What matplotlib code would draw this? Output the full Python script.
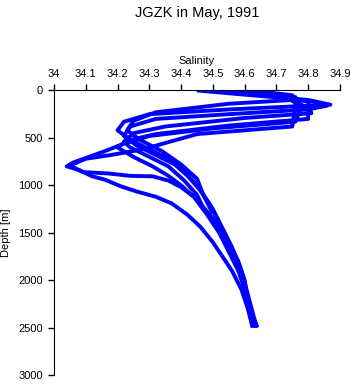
import matplotlib
matplotlib.use("Agg")
import matplotlib.pyplot as plt

# CTD salinity profiles, JGZK, May 1991
depth_1 = [0, 50, 100, 150, 200, 250, 330, 420, 520, 620, 720, 850, 1000, 1200, 1400, 1600, 1800, 2000, 2200, 2400, 2500]
sal_1 = [34.45, 34.62, 34.80, 34.87, 34.55, 34.30, 34.22, 34.20, 34.24, 34.30, 34.36, 34.41, 34.45, 34.49, 34.52, 34.55, 34.58, 34.60, 34.61, 34.625, 34.63]

depth_2 = [0, 40, 120, 160, 200, 250, 300, 380, 480, 580, 680, 780, 900, 1050, 1250, 1450, 1650, 1900, 2150, 2400, 2500]
sal_2 = [34.50, 34.65, 34.82, 34.86, 34.80, 34.55, 34.32, 34.24, 34.22, 34.26, 34.32, 34.38, 34.42, 34.46, 34.50, 34.53, 34.56, 34.59, 34.61, 34.63, 34.64]

depth_3 = [0, 50, 120, 240, 290, 380, 450, 540, 600, 700, 800, 950, 1100, 1240]
sal_3 = [34.55, 34.70, 34.80, 34.81, 34.60, 34.35, 34.25, 34.22, 34.24, 34.30, 34.36, 34.41, 34.45, 34.47]

depth_4 = [0, 80, 200, 300, 370, 460, 530, 600, 700, 800, 900, 1000, 1150, 1350, 1500, 1700, 1950, 2200, 2450]
sal_4 = [34.60, 34.75, 34.80, 34.80, 34.55, 34.32, 34.23, 34.20, 34.25, 34.31, 34.36, 34.40, 34.45, 34.50, 34.53, 34.56, 34.59, 34.61, 34.63]

depth_5 = [0, 60, 160, 330, 400, 480, 560, 640, 760, 800, 840, 905, 940, 1010, 1065, 1120, 1190, 1310, 1435, 1600, 1750, 1900, 2100, 2300, 2500]
sal_5 = [34.58, 34.72, 34.78, 34.76, 34.50, 34.30, 34.22, 34.16, 34.06, 34.04, 34.08, 34.12, 34.16, 34.21, 34.26, 34.32, 34.37, 34.42, 34.46, 34.50, 34.53, 34.56, 34.59, 34.61, 34.625]

depth_6 = [0, 50, 150, 380, 460, 620, 680, 720, 790, 860, 875, 900, 905, 950, 1020, 1120, 1300, 1500, 1700, 1900, 2100, 2300, 2500]
sal_6 = [34.62, 34.75, 34.76, 34.75, 34.45, 34.28, 34.18, 34.10, 34.05, 34.09, 34.17, 34.24, 34.31, 34.36, 34.40, 34.44, 34.48, 34.52, 34.55, 34.58, 34.60, 34.62, 34.635]

depth_7 = [0, 30, 70, 100, 140, 230, 320, 420, 520, 640, 780, 930, 1100, 1300]
sal_7 = [34.48, 34.58, 34.76, 34.75, 34.55, 34.32, 34.25, 34.23, 34.27, 34.34, 34.40, 34.45, 34.47, 34.50]

profiles = [(sal_1, depth_1), (sal_2, depth_2), (sal_3, depth_3), (sal_4, depth_4),
            (sal_5, depth_5), (sal_6, depth_6), (sal_7, depth_7)]

sal_ticks = [34, 34.1, 34.2, 34.3, 34.4, 34.5, 34.6, 34.7, 34.8, 34.9]
depth_ticks = [0, 500, 1000, 1500, 2000, 2500, 3000]

plt.rcParams["font.family"] = ["Liberation Sans", "DejaVu Sans"]

fig = plt.figure(figsize=(3.53, 3.84), dpi=100)
ax = fig.add_axes([0.153, 0.0234, 0.81, 0.741])

for sal, depth in profiles:
    ax.plot(sal, depth, color="#0000ff", linewidth=2.8, solid_capstyle="butt")

ax.set_xlim(34, 34.9)
ax.set_ylim(3000, 0)
ax.set_xticks(sal_ticks)
ax.set_xticklabels([f"{t:g}" for t in sal_ticks])
ax.set_yticks(depth_ticks)

ax.xaxis.set_ticks_position("top")
ax.xaxis.set_label_position("top")
ax.spines["right"].set_visible(False)
ax.spines["bottom"].set_visible(False)
ax.tick_params(direction="out", length=4, width=1, labelsize=8, pad=4)

ax.set_xlabel("Salinity", fontsize=8, labelpad=4)
ax.set_ylabel("Depth [m]", fontsize=8, labelpad=5)

fig.text(0.558, 0.965, "JGZK in May, 1991", ha="center", va="center", fontsize=10.5)

fig.savefig("out.png", dpi=100)
